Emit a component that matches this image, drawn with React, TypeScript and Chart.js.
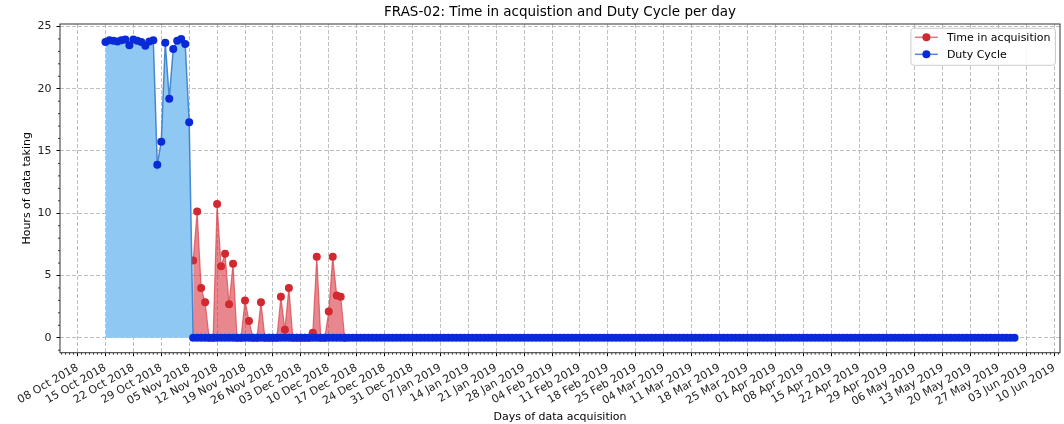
import React, { useEffect, useRef } from 'react';
import { Chart, registerables } from 'chart.js';

Chart.register(...registerables);

// ---------------- data ----------------
const CHART_TITLE = 'FRAS-02: Time in acquistion and Duty Cycle per day';
const X_TITLE = 'Days of data acquisition';
const Y_TITLE = 'Hours of data taking';

// first tick of the x axis (a Monday); ticks are weekly
const AXIS_ORIGIN = '2018-10-08';
const WEEK_TICK_LABELS = [
  '08 Oct 2018', '15 Oct 2018', '22 Oct 2018', '29 Oct 2018', '05 Nov 2018', '12 Nov 2018',
  '19 Nov 2018', '26 Nov 2018', '03 Dec 2018', '10 Dec 2018', '17 Dec 2018', '24 Dec 2018',
  '31 Dec 2018', '07 Jan 2019', '14 Jan 2019', '21 Jan 2019', '28 Jan 2019', '04 Feb 2019',
  '11 Feb 2019', '18 Feb 2019', '25 Feb 2019', '04 Mar 2019', '11 Mar 2019', '18 Mar 2019',
  '25 Mar 2019', '01 Apr 2019', '08 Apr 2019', '15 Apr 2019', '22 Apr 2019', '29 Apr 2019',
  '06 May 2019', '13 May 2019', '20 May 2019', '27 May 2019', '03 Jun 2019', '10 Jun 2019',
];
const Y_TICKS = [0, 5, 10, 15, 20, 25];

// Duty Cycle: one value per day, starting on DUTY_START
const DUTY_LABEL = 'Duty Cycle';
const DUTY_START = '2018-10-15';
const dutyCycle = [
  23.75, 23.9, 23.85, 23.8, 23.9, 23.95, 23.5, 23.95, 23.85, 23.75, 23.45,
  23.8, 23.9, 13.9, 15.75, 23.7, 19.2, 23.2, 23.85, 24.0, 23.6, 17.3,
  0, 0, 0, 0, 0, 0, 0, 0, 0, 0, 0, 0, 0, 0, 0, 0, 0, 0, 0, 0, 0, 0, 0, 0, 0, 0, 0, 0, 0, 0,
  0, 0, 0, 0, 0, 0, 0, 0, 0, 0, 0, 0, 0, 0, 0, 0, 0, 0, 0, 0, 0, 0, 0, 0, 0, 0, 0, 0, 0, 0,
  0, 0, 0, 0, 0, 0, 0, 0, 0, 0, 0, 0, 0, 0, 0, 0, 0, 0, 0, 0, 0, 0, 0, 0, 0, 0, 0, 0, 0, 0,
  0, 0, 0, 0, 0, 0, 0, 0, 0, 0, 0, 0, 0, 0, 0, 0, 0, 0, 0, 0, 0, 0, 0, 0, 0, 0, 0, 0, 0, 0,
  0, 0, 0, 0, 0, 0, 0, 0, 0, 0, 0, 0, 0, 0, 0, 0, 0, 0, 0, 0, 0, 0, 0, 0, 0, 0, 0, 0, 0, 0,
  0, 0, 0, 0, 0, 0, 0, 0, 0, 0, 0, 0, 0, 0, 0, 0, 0, 0, 0, 0, 0, 0, 0, 0, 0, 0, 0, 0, 0, 0,
  0, 0, 0, 0, 0, 0, 0, 0, 0, 0, 0, 0, 0, 0, 0, 0, 0, 0, 0, 0, 0, 0, 0, 0, 0, 0, 0,
];

// Time in acquisition: one value per day, starting on ACQ_START
const ACQ_LABEL = 'Time in acquisition';
const ACQ_START = '2018-11-06';
const timeInAcquisition = [
  6.2, 10.15, 4.0, 2.85, 0, 0, 10.75, 5.75, 6.75, 2.7, 5.95, 0, 0, 3.0, 1.35, 0, 0, 2.85,
  0, 0, 0, 0, 3.3, 0.65, 4.0, 0, 0, 0, 0, 0, 0.4, 6.5, 0, 0, 2.1, 6.5, 3.4, 3.3, 0,
];

// ---------------- styles ----------------
const FONT = "'DejaVu Sans', 'Liberation Sans', sans-serif";
const RED_LINE = 'rgba(214, 50, 60, 0.65)';
const RED_MARK = '#d2282f';
const RED_FILL = 'rgba(214, 39, 50, 0.55)';
const BLUE_LINE = 'rgba(50, 120, 200, 0.85)';
const BLUE_MARK = '#0a2ad8';
const BLUE_FILL = 'rgb(143, 200, 242)';
const GRID = '#b0b0b0';
const MARK_R = 4;

const DAY_MS = 86400000;
const dayIndex = (iso: string) =>
  Math.round((Date.parse(iso + 'T00:00:00Z') - Date.parse(AXIS_ORIGIN + 'T00:00:00Z')) / DAY_MS);

const toPoints = (start: string, values: number[]) => {
  const s = dayIndex(start);
  return values.map((v, i) => ({ x: s + i, y: v }));
};

const decorPlugin = {
  id: 'decor',
  afterDraw(chart: any) {
    const { ctx, chartArea: a, scales } = chart;
    const xs = scales.x;
    const ys = scales.y;
    ctx.save();
    // minor ticks (daily on x, hourly on y)
    ctx.strokeStyle = '#000';
    ctx.lineWidth = 0.8;
    ctx.beginPath();
    for (let d = Math.ceil(xs.min); d <= Math.floor(xs.max); d++) {
      if (d % 7 === 0) continue;
      const px = xs.getPixelForValue(d);
      ctx.moveTo(px, a.bottom);
      ctx.lineTo(px, a.bottom + 2);
    }
    for (let h = Math.ceil(ys.min); h <= Math.floor(ys.max); h++) {
      if (h % 5 === 0) continue;
      const py = ys.getPixelForValue(h);
      ctx.moveTo(a.left, py);
      ctx.lineTo(a.left - 2, py);
    }
    ctx.stroke();
    // frame
    ctx.strokeStyle = '#333';
    ctx.lineWidth = 1;
    ctx.strokeRect(a.left, a.top, a.right - a.left, a.bottom - a.top);

    // legend (upper right, inside axes)
    ctx.font = `11px ${FONT}`;
    const items = [
      { label: ACQ_LABEL, line: RED_LINE, mark: RED_MARK },
      { label: DUTY_LABEL, line: BLUE_LINE, mark: BLUE_MARK },
    ];
    const textW = Math.max(...items.map((it) => ctx.measureText(it.label).width));
    const handle = 23;
    const padL = 4;
    const gap = 9;
    const padR = 5;
    const rowH = 17;
    const boxW = padL + handle + gap + textW + padR;
    const boxH = 37;
    const x0 = a.right - 4.5 - boxW;
    const y0 = a.top + 4.3;
    ctx.fillStyle = 'rgba(255,255,255,0.85)';
    ctx.strokeStyle = '#cccccc';
    ctx.lineWidth = 1;
    ctx.beginPath();
    (ctx as any).roundRect(x0, y0, boxW, boxH, 3);
    ctx.fill();
    ctx.stroke();
    items.forEach((it, i) => {
      const cy = y0 + 9 + i * rowH;
      ctx.strokeStyle = it.line;
      ctx.lineWidth = 1.5;
      ctx.beginPath();
      ctx.moveTo(x0 + padL, cy);
      ctx.lineTo(x0 + padL + handle, cy);
      ctx.stroke();
      ctx.fillStyle = it.mark;
      ctx.beginPath();
      ctx.arc(x0 + padL + handle / 2, cy, MARK_R, 0, Math.PI * 2);
      ctx.fill();
      ctx.fillStyle = '#000';
      ctx.textBaseline = 'middle';
      ctx.textAlign = 'left';
      ctx.fillText(it.label, x0 + padL + handle + gap, cy + 0.5);
    });
    ctx.restore();
  },
};

export default function App() {
  const ref = useRef<HTMLCanvasElement | null>(null);

  useEffect(() => {
    document.body.style.margin = '0';
    const canvas = ref.current;
    if (!canvas) return;

    const duty = toPoints(DUTY_START, dutyCycle);
    const acq = toPoints(ACQ_START, timeInAcquisition);
    const allX = [...duty, ...acq].map((p) => p.x);
    const allY = [...duty, ...acq].map((p) => p.y);
    const xLo = Math.min(...allX);
    const xHi = Math.max(...allX);
    const yLo = Math.min(...allY);
    const yHi = Math.max(...allY);
    const xm = (xHi - xLo) * 0.05;
    const ym = (yHi - yLo) * 0.05;

    const chart = new Chart(canvas, {
      type: 'line',
      data: {
        datasets: [
          {
            label: DUTY_LABEL,
            data: duty,
            borderColor: BLUE_LINE,
            borderWidth: 1.5,
            backgroundColor: BLUE_FILL,
            fill: 'origin',
            pointRadius: MARK_R,
            pointBackgroundColor: BLUE_MARK,
            pointBorderColor: BLUE_MARK,
            pointBorderWidth: 0,
            tension: 0,
          },
          {
            label: ACQ_LABEL,
            data: acq,
            borderColor: RED_LINE,
            borderWidth: 1.2,
            backgroundColor: RED_FILL,
            fill: 'origin',
            pointRadius: MARK_R,
            pointBackgroundColor: RED_MARK,
            pointBorderColor: RED_MARK,
            pointBorderWidth: 0,
            tension: 0,
          },
        ],
      },
      options: {
        responsive: false,
        animation: false,
        events: [],
        layout: { padding: { left: 0, right: 2.5, top: 0, bottom: 0 } },
        plugins: {
          legend: { display: false },
          tooltip: { enabled: false },
          title: {
            display: true,
            text: CHART_TITLE,
            fullSize: false,
            color: '#000',
            font: { family: FONT, size: 13.5, weight: 'normal' },
            padding: { top: 4, bottom: 3.8 },
          },
        },
        scales: {
          x: {
            type: 'linear',
            min: xLo - xm,
            max: xHi + xm,
            afterBuildTicks: (scale: any) => {
              scale.ticks = WEEK_TICK_LABELS.map((_, i) => ({ value: i * 7 }));
            },
            afterFit: (scale: any) => {
              scale.height = 71.3;
              scale.paddingLeft = 0;
              scale.paddingRight = 0;
            },
            ticks: {
              autoSkip: false,
              minRotation: 30,
              maxRotation: 30,
              padding: 5,
              color: '#222',
              font: { family: FONT, size: 11 },
              callback: (_v: any, i: number) => WEEK_TICK_LABELS[i],
            },
            grid: {
              color: GRID,
              lineWidth: 0.8,
              tickLength: 3.5,
              tickColor: '#000',
              tickWidth: 1,
              tickBorderDash: [],
            },
            border: { display: false, dash: [4, 2] },
            title: {
              display: true,
              text: X_TITLE,
              color: '#000',
              font: { family: FONT, size: 11 },
              padding: { top: 0, bottom: 0.5 },
            },
          },
          y: {
            type: 'linear',
            min: yLo - ym,
            max: yHi + ym,
            afterBuildTicks: (scale: any) => {
              scale.ticks = Y_TICKS.map((v) => ({ value: v }));
            },
            afterFit: (scale: any) => {
              scale.width = 60;
            },
            ticks: {
              padding: 5,
              color: '#222',
              font: { family: FONT, size: 11 },
              callback: (v: any) => String(v),
            },
            grid: {
              color: GRID,
              lineWidth: 0.8,
              tickLength: 3.5,
              tickColor: '#000',
              tickWidth: 1,
              tickBorderDash: [],
            },
            border: { display: false, dash: [4, 2] },
            title: {
              display: true,
              text: Y_TITLE,
              color: '#000',
              font: { family: FONT, size: 11 },
              padding: { top: 20.4, bottom: 0 },
            },
          },
        },
      },
      plugins: [decorPlugin],
    } as any);

    return () => chart.destroy();
  }, []);

  return (
    <div style={{ width: 1064, height: 424, background: '#fff' }}>
      <canvas ref={ref} width={1064} height={424} style={{ display: 'block' }} />
    </div>
  );
}
